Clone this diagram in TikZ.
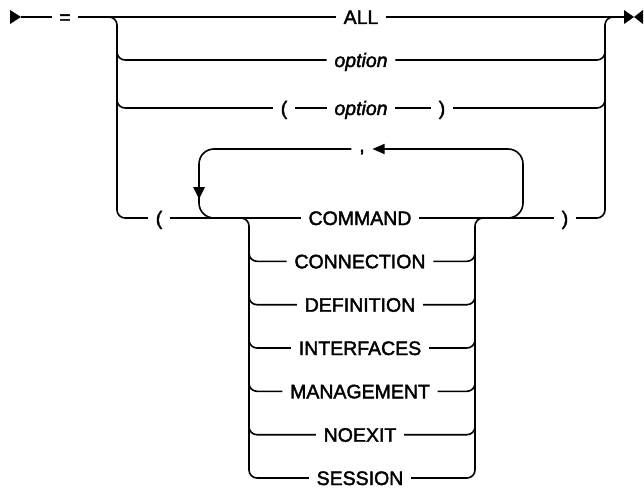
\documentclass[tikz,border=0pt]{standalone}
\usepackage{fontspec}
\setmainfont{Liberation Sans}[FakeBold=2]
\usetikzlibrary{arrows.meta}
\begin{document}
\begin{tikzpicture}[x=1pt,y=-1pt,line width=1.6pt,
  font=\fontsize{19.5}{22}\selectfont,
  rr/.style={rounded corners=8pt},
  rl/.style={rounded corners=15pt},
  lbl/.style={inner xsep=7pt,inner ysep=0pt,text height=14pt,text depth=0pt,anchor=center},
  kw/.style={lbl},
  var/.style={lbl,font=\fontsize{19.5}{22}\selectfont\itshape},
  tip/.style={-{Triangle[length=12pt,width=10pt]}}]
\useasboundingbox (0,0) rectangle (644,489);

% main line
\coordinate (s) at (21,17);
\coordinate (e) at (624,17);
\fill (10,10) -- (s) -- (10,24) -- cycle;
\fill (624,10) -- (634,17) -- (624,24) -- cycle;
\fill (643,10) -- (634,17) -- (643,24) -- cycle;
\node[kw] (eq) at (65,17) {=};
\node[kw] (all) at (361,17) {ALL};
\draw (s) -- (eq);
\draw (eq) -- (all);
\draw (all) -- (e);

% row 2
\node[var] (opt1) at (361,60) {option};
\draw[rr] (117,40) |- (opt1.west);
\draw[rr] (opt1.east) -| (605,40);

% row 3
\node[kw] (lp1) at (284,108) {(};
\node[var] (opt2) at (361,108) {option};
\node[kw] (rp1) at (442,108) {)};
\draw[rr] (117,80) |- (lp1.west);
\draw (lp1) -- (opt2);
\draw (opt2) -- (rp1);
\draw[rr] (rp1.east) -| (605,80);

% row 4
\node[kw] (lp2) at (159,218) {(};
\node[kw] (cmd) at (360,218) {COMMAND};
\node[kw] (rp2) at (565,218) {)};
\draw[rr] (100,17) -| (117,218) -- (lp2.west);
\draw (lp2) -- (cmd);
\draw (cmd) -- (rp2);
\draw[rr] (rp2.east) -| (605,17) -- (e);

% repetition loop
\node[kw] (comma) at (362,145) {,};
\coordinate (lr) at (498,218);
\coordinate (ll) at (230,218);
\draw[rl,tip] (lr) -| (523,149) -- (comma.east |- 0,149);
\draw[rl] (comma.west |- 0,149) -| (199,218) -- (ll);
\fill (193,187) -- (205,187) -- (199,199) -- cycle;

% stack
\foreach \n/\t/\y in {conn/CONNECTION/261.3, def/DEFINITION/304.7, intf/INTERFACES/348,
  mgmt/MANAGEMENT/391.3, noex/NOEXIT/434.7, sess/SESSION/478}{
  \node[kw] (\n) at (360,\y) {\t};
}
\draw[rr] (235,218) -| (249,478) -- (sess.west);
\draw[rr] (sess.east) -| (475,218) -- (490,218);
\foreach \n/\y in {conn/261.3, def/304.7, intf/348, mgmt/391.3, noex/434.7}{
  \draw[rr] (249,\y-22) |- (\n.west);
  \draw[rr] (\n.east) -| (475,\y-22);
}
\end{tikzpicture}
\end{document}
